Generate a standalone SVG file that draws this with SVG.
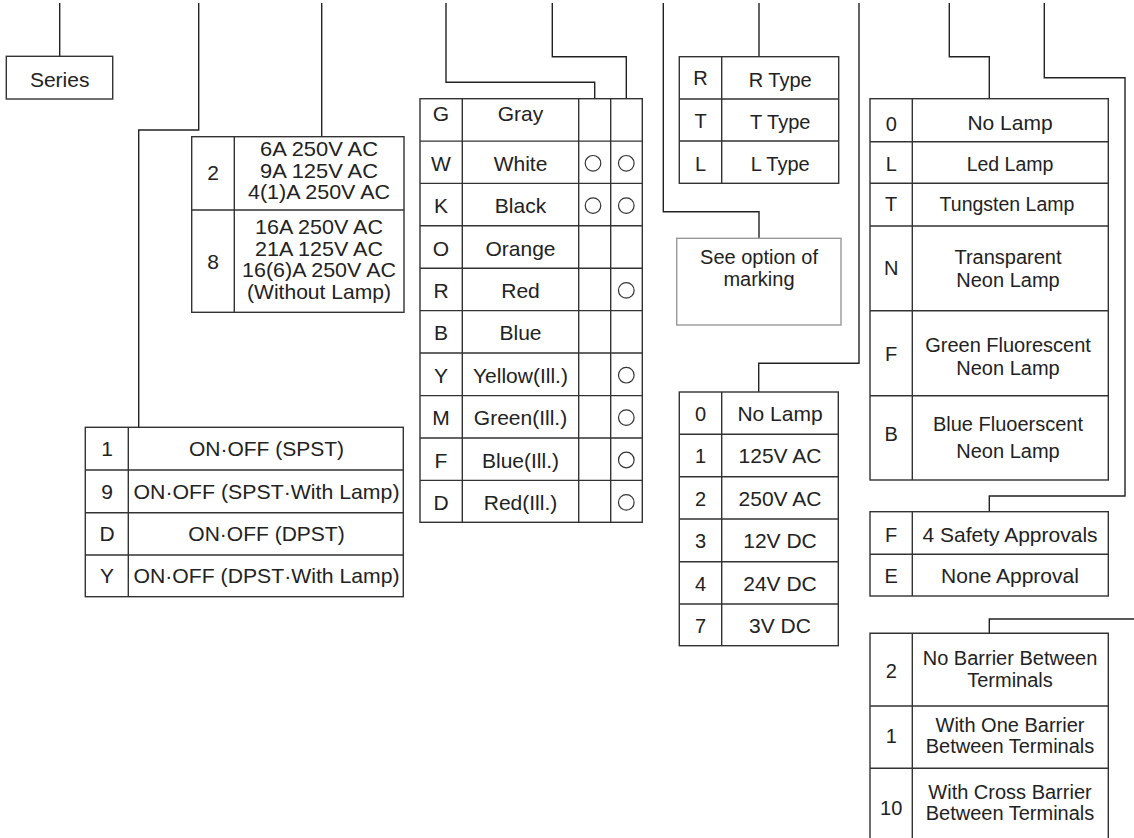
<svg xmlns="http://www.w3.org/2000/svg" width="1134" height="838" viewBox="0 0 1134 838">
<style>
.bg{fill:#fff}
.ln{fill:none;stroke:#222;stroke-width:1.4}
.tb{fill:#fff;stroke:#333;stroke-width:1.4}
.gl{fill:none;stroke:#333;stroke-width:1.4}
.mk{fill:#fff;stroke:#999;stroke-width:1.4}
.ci{fill:#fff;stroke:#333;stroke-width:1.2}
text{font-family:"Liberation Sans",Arial,sans-serif;fill:#222;text-anchor:middle}
.f21{font-size:21px}
.f20{font-size:20px}
.f19{font-size:19.5px}
.f22{font-size:21px}
</style>
<rect class="bg" x="0" y="0" width="1134" height="838"/>
<g id="connectors">
<path class="ln" d="M59.7,3 V56.3"/>
<path class="ln" d="M198.7,3 V130 H138.7 V427.3"/>
<path class="ln" d="M321.7,3 V136.7"/>
<path class="ln" d="M446,3 V82.3 H594.7 V98.7"/>
<path class="ln" d="M552.3,3 V56.7 H626.3 V98.7"/>
<path class="ln" d="M663.3,3 V211.7 H759 V238.3"/>
<path class="ln" d="M759,3 V56.7"/>
<path class="ln" d="M859,3 V363.3 H758.7 V392"/>
<path class="ln" d="M949.3,3 V56.7 H989.3 V98.7"/>
<path class="ln" d="M1044.3,3 V77.7 H1125 V496 H989.3 V511.7"/>
<path class="ln" d="M1134,619 H989.3 V633.3"/>
</g>
<g id="series">
<rect class="tb" x="6.3" y="56.3" width="106.4" height="42.7"/>
<text class="f21" x="59.7" y="87.3">Series</text>
</g>
<g id="rating">
<rect class="tb" x="191.7" y="136.7" width="212.3" height="175.6"/>
<path class="gl" d="M234.3,136.7 V312.3 M191.7,210 H404"/>
<text class="f21" x="213" y="179.5">2</text>
<text class="f21" x="213" y="269">8</text>
<text class="f22" x="319" y="156" textLength="118" lengthAdjust="spacingAndGlyphs">6A 250V AC</text>
<text class="f22" x="319" y="177.7" textLength="118" lengthAdjust="spacingAndGlyphs">9A 125V AC</text>
<text class="f22" x="319" y="199.3" textLength="142" lengthAdjust="spacingAndGlyphs">4(1)A 250V AC</text>
<text class="f22" x="319" y="234" textLength="128" lengthAdjust="spacingAndGlyphs">16A 250V AC</text>
<text class="f22" x="319" y="255.7" textLength="128" lengthAdjust="spacingAndGlyphs">21A 125V AC</text>
<text class="f22" x="319" y="277.3" textLength="154" lengthAdjust="spacingAndGlyphs">16(6)A 250V AC</text>
<text class="f22" x="319" y="299" textLength="144" lengthAdjust="spacingAndGlyphs">(Without Lamp)</text>
</g>
<g id="switch">
<rect class="tb" x="85.3" y="427.3" width="318" height="169.4"/>
<path class="gl" d="M128.3,427.3 V596.7 M85.3,470 H403.3 M85.3,512.7 H403.3 M85.3,555 H403.3"/>
<text class="f21" x="107" y="456.2">1</text>
<text class="f21" x="107" y="498.8">9</text>
<text class="f21" x="107" y="541.3">D</text>
<text class="f21" x="107" y="583.3">Y</text>
<text class="f21" x="266.5" y="456.2">ON·OFF (SPST)</text>
<text class="f21" x="266.5" y="498.8" textLength="266" lengthAdjust="spacingAndGlyphs">ON·OFF (SPST·With Lamp)</text>
<text class="f21" x="266.5" y="541.3">ON·OFF (DPST)</text>
<text class="f21" x="266.5" y="583.3" textLength="266" lengthAdjust="spacingAndGlyphs">ON·OFF (DPST·With Lamp)</text>
</g>
<g id="color">
<rect class="tb" x="420" y="98.7" width="222.3" height="423.6"/>
<path class="gl" d="M462.3,98.7 V522.3 M578.7,98.7 V522.3 M610.7,98.7 V522.3 M420,141.1 H642.3 M420,183.4 H642.3 M420,225.8 H642.3 M420,268.2 H642.3 M420,310.6 H642.3 M420,353 H642.3 M420,395.6 H642.3 M420,438 H642.3 M420,480.4 H642.3"/>
<text class="f21" x="441" y="120.5">G</text><text class="f21" x="520.5" y="120.5">Gray</text>
<text class="f21" x="441" y="170.8">W</text><text class="f21" x="520.5" y="170.8">White</text>
<text class="f21" x="441" y="213.2">K</text><text class="f21" x="520.5" y="213.2">Black</text>
<text class="f21" x="441" y="255.6">O</text><text class="f21" x="520.5" y="255.6">Orange</text>
<text class="f21" x="441" y="298">R</text><text class="f21" x="520.5" y="298">Red</text>
<text class="f21" x="441" y="340.4">B</text><text class="f21" x="520.5" y="340.4">Blue</text>
<text class="f21" x="441" y="382.8">Y</text><text class="f21" x="520.5" y="382.8">Yellow(Ill.)</text>
<text class="f21" x="441" y="425.2">M</text><text class="f21" x="520.5" y="425.2">Green(Ill.)</text>
<text class="f21" x="441" y="467.6">F</text><text class="f21" x="520.5" y="467.6">Blue(Ill.)</text>
<text class="f21" x="441" y="510">D</text><text class="f21" x="520.5" y="510">Red(Ill.)</text>
<circle class="ci" cx="593" cy="163.3" r="7.8"/>
<circle class="ci" cx="626.3" cy="163.3" r="7.8"/>
<circle class="ci" cx="593" cy="205.6" r="7.8"/>
<circle class="ci" cx="626.3" cy="205.6" r="7.8"/>
<circle class="ci" cx="626.3" cy="290.4" r="7.8"/>
<circle class="ci" cx="626.3" cy="375.2" r="7.8"/>
<circle class="ci" cx="626.3" cy="417.6" r="7.8"/>
<circle class="ci" cx="626.3" cy="460" r="7.8"/>
<circle class="ci" cx="626.3" cy="502.4" r="7.8"/>
</g>
<g id="type">
<rect class="tb" x="679.3" y="56.7" width="159.4" height="126.6"/>
<path class="gl" d="M721.7,56.7 V183.3 M679.3,99 H838.7 M679.3,141 H838.7"/>
<text class="f20" x="700.5" y="85">R</text><text class="f20" x="780.2" y="86.5">R Type</text>
<text class="f20" x="700.5" y="128">T</text><text class="f20" x="780.2" y="128.5">T Type</text>
<text class="f20" x="700.5" y="170.5">L</text><text class="f20" x="780.2" y="170.5">L Type</text>
</g>
<g id="marking">
<rect class="mk" x="676.7" y="238.3" width="164.3" height="86.7"/>
<text class="f20" x="759" y="263.5">See option of</text>
<text class="f20" x="759" y="286">marking</text>
</g>
<g id="voltage">
<rect class="tb" x="679.3" y="392" width="159" height="253.7"/>
<path class="gl" d="M721.7,392 V645.7 M679.3,434.3 H838.3 M679.3,476.7 H838.3 M679.3,519 H838.3 M679.3,561.7 H838.3 M679.3,604 H838.3"/>
<text class="f20" x="700.5" y="421">0</text><text class="f21" x="780" y="421">No Lamp</text>
<text class="f20" x="700.5" y="463.3">1</text><text class="f21" x="780" y="463.3">125V AC</text>
<text class="f20" x="700.5" y="505.6">2</text><text class="f21" x="780" y="505.6">250V AC</text>
<text class="f20" x="700.5" y="548">3</text><text class="f21" x="780" y="548">12V DC</text>
<text class="f20" x="700.5" y="590.5">4</text><text class="f21" x="780" y="590.5">24V DC</text>
<text class="f20" x="700.5" y="632.5">7</text><text class="f21" x="780" y="632.5">3V DC</text>
</g>
<g id="lamp">
<rect class="tb" x="870" y="98.7" width="238.3" height="381.3"/>
<path class="gl" d="M912.3,98.7 V480 M870,141.7 H1108.3 M870,183.3 H1108.3 M870,226 H1108.3 M870,310.7 H1108.3 M870,395.7 H1108.3"/>
<text class="f20" x="891.2" y="130.5">0</text><text class="f21" x="1010" y="130">No Lamp</text>
<text class="f20" x="891.2" y="170.5">L</text><text class="f19" x="1010" y="170.5">Led Lamp</text>
<text class="f20" x="891.2" y="211">T</text><text class="f19" x="1007" y="211">Tungsten Lamp</text>
<text class="f20" x="891.2" y="275">N</text><text class="f20" x="1008" y="264">Transparent</text><text class="f20" x="1008" y="287">Neon Lamp</text>
<text class="f20" x="891.2" y="360.5">F</text><text class="f20" x="1008" y="351.5">Green Fluorescent</text><text class="f20" x="1008" y="375">Neon Lamp</text>
<text class="f20" x="891.2" y="440.5">B</text><text class="f20" x="1008" y="431">Blue Fluoerscent</text><text class="f20" x="1008" y="458">Neon Lamp</text>
</g>
<g id="approval">
<rect class="tb" x="870" y="511.7" width="238.3" height="84.3"/>
<path class="gl" d="M912.3,511.7 V596 M870,554.3 H1108.3"/>
<text class="f20" x="891.2" y="542">F</text><text class="f21" x="1010" y="542">4 Safety Approvals</text>
<text class="f20" x="891.2" y="583">E</text><text class="f21" x="1010" y="583">None Approval</text>
</g>
<g id="barrier">
<path class="gl" d="M870,838 V633.3 H1108.3 V838 M912.3,633.3 V838 M870,706 H1108.3 M870,768.3 H1108.3"/>
<text class="f20" x="891.2" y="678">2</text><text class="f20" x="1010" y="665">No Barrier Between</text><text class="f20" x="1010" y="687.3">Terminals</text>
<text class="f20" x="891.2" y="743">1</text><text class="f20" x="1010" y="731.5">With One Barrier</text><text class="f20" x="1010" y="752.7">Between Terminals</text>
<text class="f20" x="891.2" y="815">10</text><text class="f20" x="1010" y="799">With Cross Barrier</text><text class="f20" x="1010" y="820">Between Terminals</text>
</g>
</svg>
